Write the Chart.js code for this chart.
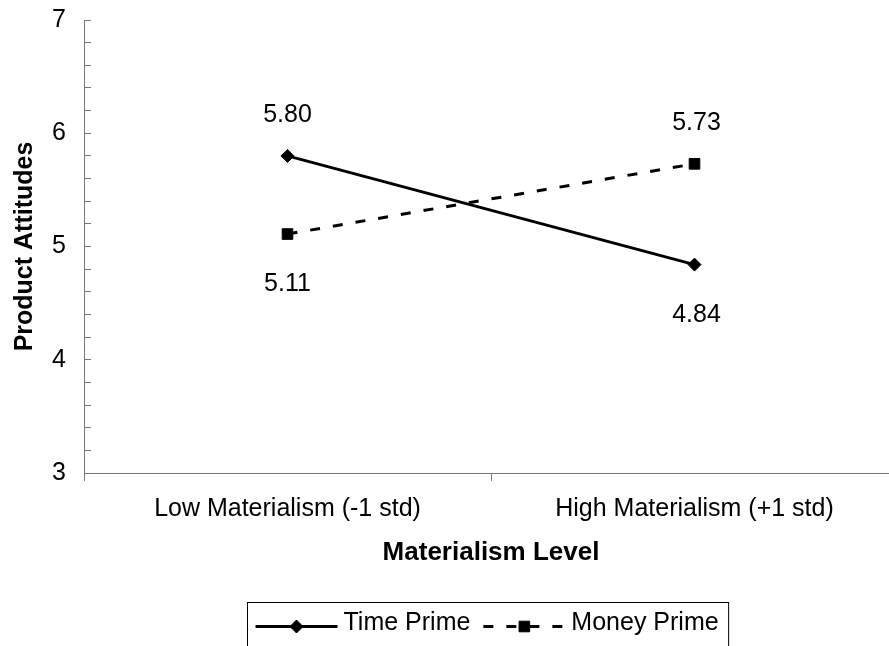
<!DOCTYPE html>
<html>
<head>
<meta charset="utf-8">
<title>Product Attitudes by Materialism Level</title>
<script src="https://cdn.jsdelivr.net/npm/chart.js"></script>
<style>
  html, body { margin: 0; padding: 0; overflow: hidden; background: #fff; }
  #chart { display: block; }
</style>
</head>
<body>
<canvas id="chart" width="976" height="646"></canvas>
<script>
// data
var categories = ['Low Materialism (-1 std)', 'High Materialism (+1 std)'];
var timePrime = [5.80, 4.84];
var moneyPrime = [5.11, 5.73];
var seriesNames = ['Time Prime', 'Money Prime'];
var yMin = 3, yMax = 7, yMajorStep = 1, yMinorStep = 0.2;
var yTitle = 'Product Attitudes';
var xTitle = 'Materialism Level';

var FONT = '"Liberation Sans", Arial, sans-serif';
var AXIS_COLOR = '#777';

Chart.defaults.color = '#000';
Chart.defaults.font.family = FONT;
Chart.defaults.font.size = 25;

// value labels above / below each point
var valueLabels = {
    id: 'valueLabels',
    afterDatasetsDraw: function(chart) {
        var ctx = chart.ctx;
        var sets = chart.data.datasets;
        ctx.save();
        ctx.font = '25px ' + FONT;
        ctx.fillStyle = '#000';
        ctx.textAlign = 'center';
        ctx.textBaseline = 'middle';
        for (var d = 0; d < sets.length; d++) {
            var meta = chart.getDatasetMeta(d);
            var other = sets[(d + 1) % sets.length].data;
            for (var i = 0; i < meta.data.length; i++) {
                var pt = meta.data[i];
                var v = sets[d].data[i];
                var dy = v >= other[i] ? -41 : 50;
                ctx.fillText(v.toFixed(2), pt.x + 2 * i, pt.y + dy);
            }
        }
        ctx.restore();
    }
};

// boxed legend with line + marker samples
var boxedLegend = {
    id: 'boxedLegend',
    afterDraw: function(chart) {
        var ctx = chart.ctx;
        var sets = chart.data.datasets;
        var sampleW = 82, padL = 8, padR = 10, gapText = 6, gapItem = 13;
        ctx.save();
        ctx.font = '25px ' + FONT;
        var total = padL + padR;
        var widths = [];
        for (var d = 0; d < sets.length; d++) {
            widths.push(ctx.measureText(sets[d].label).width);
            total += sampleW + gapText + widths[d] + (d > 0 ? gapItem : 0);
        }
        var left = Math.round(chart.width / 2 - total / 2) + 0.5;
        var top = chart.chartArea.bottom + 129.5;
        ctx.strokeStyle = '#000';
        ctx.lineWidth = 1;
        ctx.strokeRect(left, top, total, 46);

        var x = left + padL;
        var yLine = top + 24;
        for (d = 0; d < sets.length; d++) {
            var ds = sets[d];
            ctx.beginPath();
            ctx.setLineDash(ds.borderDash || []);
            ctx.lineWidth = ds.borderWidth;
            ctx.strokeStyle = ds.borderColor;
            ctx.moveTo(x, yLine);
            ctx.lineTo(x + sampleW, yLine);
            ctx.stroke();
            ctx.setLineDash([]);
            ctx.fillStyle = ds.pointBackgroundColor;
            ctx.strokeStyle = ds.pointBorderColor;
            ctx.lineWidth = ds.pointBorderWidth;
            Chart.helpers.drawPoint(ctx, {
                pointStyle: ds.pointStyle,
                radius: ds.pointRadius,
                borderWidth: ds.pointBorderWidth,
                rotation: 0
            }, x + sampleW / 2, yLine);
            x += sampleW + gapText;
            ctx.fillStyle = '#000';
            ctx.textAlign = 'left';
            ctx.textBaseline = 'middle';
            ctx.fillText(ds.label, x, yLine - 3);
            x += widths[d] + gapItem;
        }
        ctx.restore();
    }
};

var ctx = document.getElementById('chart');
var chart = new Chart(ctx, {
    type: 'line',
    data: {
        labels: categories,
        datasets: [{
            label: seriesNames[0],
            data: timePrime,
            borderColor: '#000',
            borderWidth: 3,
            pointStyle: 'rectRot',
            pointRadius: 6.5,
            pointBorderWidth: 1,
            pointBackgroundColor: '#000',
            pointBorderColor: '#000',
            tension: 0
        }, {
            label: seriesNames[1],
            data: moneyPrime,
            borderColor: '#000',
            borderWidth: 3,
            borderDash: [10, 13],
            pointStyle: 'rect',
            pointRadius: 7.5,
            pointBorderWidth: 1,
            pointBackgroundColor: '#000',
            pointBorderColor: '#000',
            tension: 0
        }]
    },
    options: {
        responsive: false,
        animation: false,
        layout: { padding: { top: 20, right: 78, bottom: 78, left: 0 } },
        plugins: {
            legend: { display: false },
            tooltip: { enabled: false }
        },
        scales: {
            x: {
                offset: true,
                grid: { offset: true, drawOnChartArea: false, tickLength: 8, color: AXIS_COLOR },
                border: { color: AXIS_COLOR },
                ticks: { padding: 13, maxRotation: 0, autoSkip: false, font: { size: 25 } },
                title: { display: true, text: xTitle, font: { size: 26, weight: 'bold' }, padding: { top: 0, bottom: 0 } },
                afterFit: function(scale) { scale.height = 95; }
            },
            y: {
                min: yMin,
                max: yMax,
                grid: { drawOnChartArea: false, tickLength: -7, color: AXIS_COLOR },
                border: { color: AXIS_COLOR },
                ticks: {
                    stepSize: yMinorStep,
                    autoSkip: false,
                    padding: 25,
                    font: { size: 25 },
                    callback: function(value) {
                        var r = Math.round(value / yMajorStep) * yMajorStep;
                        return Math.abs(value - r) < 1e-6 ? String(r) : '';
                    }
                },
                title: { display: true, text: yTitle, font: { size: 25, weight: 'bold' }, padding: { top: 10, bottom: 0 } },
                afterFit: function(scale) {
                    scale.width = 84;
                    scale.paddingTop = 0;
                    scale.paddingBottom = 0;
                }
            }
        }
    },
    plugins: [valueLabels, boxedLegend]
});
</script>
</body>
</html>
